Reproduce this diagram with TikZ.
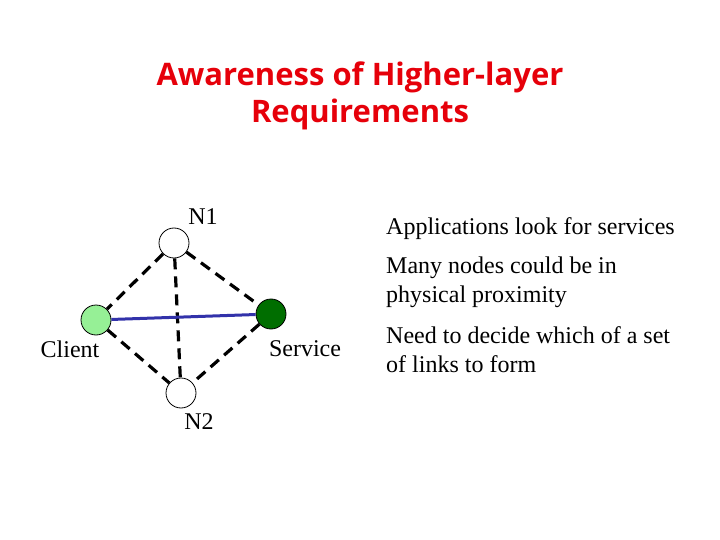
\documentclass[tikz,border=0pt]{standalone}
\usepackage{fontspec}
\setmainfont{Liberation Serif}
\newfontfamily\titlefont{Open Sans}
\definecolor{titlered}{RGB}{230,0,10}
\definecolor{lightg}{RGB}{150,240,150}
\definecolor{darkg}{RGB}{0,110,0}
\definecolor{linkblue}{RGB}{50,50,170}
\begin{document}
\begin{tikzpicture}[x=1pt,y=-1pt,
  vert/.style={circle,draw=black,line width=0.8pt,minimum size=30pt,inner sep=0pt},
  dlink/.style={draw=black,line width=3.2pt,dash pattern=on 11pt off 7pt},
  lbl/.style={font=\fontsize{24}{28}\selectfont,inner sep=0pt},
  body/.style={font=\fontsize{24}{29}\selectfont,inner sep=0pt,anchor=north west,align=left}]
\useasboundingbox (0,0) rectangle (720,540);
\node[font=\titlefont\bfseries\fontsize{31}{37}\selectfont,text=titlered,align=center] (title) at (360,96) {Awareness of Higher-layer\\Requirements};
\node[vert,fill=white] (n1) at (174,243) {};
\node[vert,fill=lightg] (cl) at (96,320) {};
\node[vert,fill=darkg] (sv) at (271,314) {};
\node[vert,fill=white] (n2) at (181,393) {};
\draw[dlink] (n1) -- (cl);
\draw[dlink] (n1) -- (sv);
\draw[dlink] (n1) -- (n2);
\draw[dlink] (cl) -- (n2);
\draw[dlink] (sv) -- (n2);
\draw[draw=linkblue,line width=3pt] (cl) -- (sv);
\node[lbl] (ln1) at (203,217) {N1};
\node[lbl] (lcl) at (70,349) {Client};
\node[lbl] (lsv) at (305,349) {Service};
\node[lbl] (ln2) at (199,422) {N2};
\node[body] (t1) at (386,217) {Applications look for services};
\node[body] (t2) at (386,257) {Many nodes could be in\\physical proximity};
\node[body] (t3) at (386,326) {Need to decide which of a set\\of links to form};
\end{tikzpicture}
\end{document}
